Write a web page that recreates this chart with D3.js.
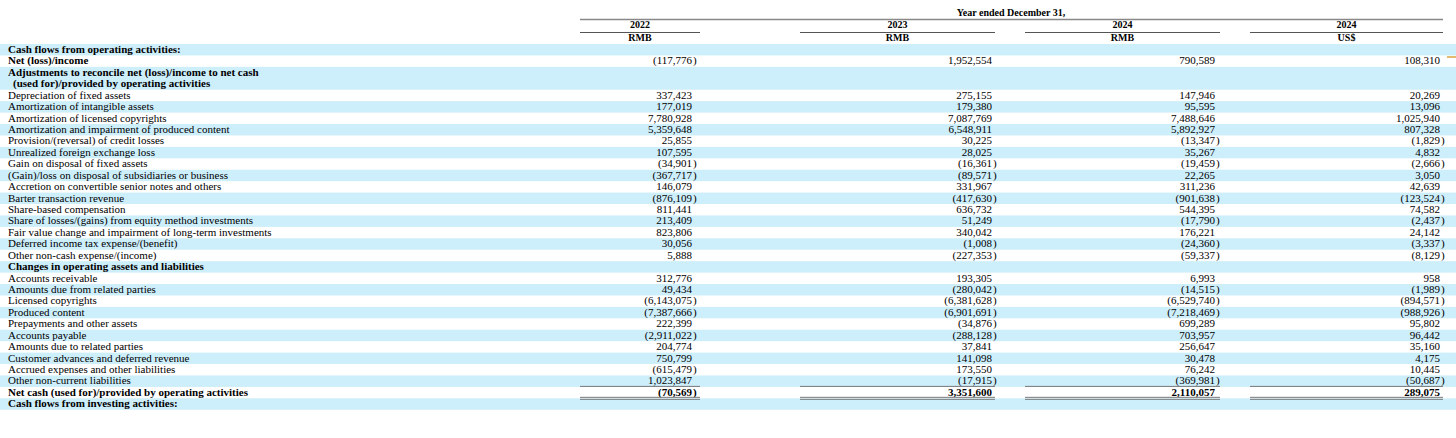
<!DOCTYPE html>
<html><head><meta charset="utf-8">
<script src="https://cdn.jsdelivr.net/npm/d3@7"></script>
<style>body{margin:0;background:#fff}svg{display:block}text{font-family:"Liberation Serif","Times New Roman",serif;font-size:11px;fill:#000}</style>
</head><body><div id="chart"></div>
<script>
// row labels, type: h = bold header, r = plain row, t = total
var labels = ["Cash flows from operating activities:", "Net (loss)/income",
  "Adjustments to reconcile net (loss)/income to net cash|(used for)/provided by operating activities",
  "Depreciation of fixed assets", "Amortization of intangible assets", "Amortization of licensed copyrights",
  "Amortization and impairment of produced content", "Provision/(reversal) of credit losses",
  "Unrealized foreign exchange loss", "Gain on disposal of fixed assets",
  "(Gain)/loss on disposal of subsidiaries or business", "Accretion on convertible senior notes and others",
  "Barter transaction revenue", "Share-based compensation", "Share of losses/(gains) from equity method investments",
  "Fair value change and impairment of long-term investments", "Deferred income tax expense/(benefit)",
  "Other non-cash expense/(income)", "Changes in operating assets and liabilities", "Accounts receivable",
  "Amounts due from related parties", "Licensed copyrights", "Produced content", "Prepayments and other assets",
  "Accounts payable", "Amounts due to related parties", "Customer advances and deferred revenue",
  "Accrued expenses and other liabilities", "Other non-current liabilities",
  "Net cash (used for)/provided by operating activities", "Cash flows from investing activities:"];
var types = ["h","b","h","r","r","r","r","r","r","r","r","r","r","r","r","r","r","r","h","r","r","r","r","r","r","r","r","r","r","t","h"];
var years = ["2022", "2023", "2024", "2024"];
var currencies = ["RMB", "RMB", "RMB", "US$"];
var v2022 = [null,-117776,null,337423,177019,7780928,5359648,25855,107595,-34901,-367717,146079,-876109,811441,213409,823806,30056,5888,null,312776,49434,-6143075,-7387666,222399,-2911022,204774,750799,-615479,1023847,-70569,null];
var v2023 = [null,1952554,null,275155,179380,7087769,6548911,30225,28025,-16361,-89571,331967,-417630,636732,51249,340042,-1008,-227353,null,193305,-280042,-6381628,-6901691,-34876,-288128,37841,141098,173550,-17915,3351600,null];
var v2024 = [null,790589,null,147946,95595,7488646,5892927,-13347,35267,-19459,22265,311236,-901638,544395,-17790,176221,-24360,-59337,null,6993,-14515,-6529740,-7218469,699289,703957,256647,30478,76242,-369981,2110057,null];
var vUsd = [null,108310,null,20269,13096,1025940,807328,-1829,4832,-2666,3050,42639,-123524,74582,-2437,24142,-3337,-8129,null,958,-1989,-894571,-988926,95802,96442,35160,4175,10445,-50687,289075,null];
var series = [v2022, v2023, v2024, vUsd];

var W = 1456, H = 438, rowH = 11.43, tableTop = 44;
var colL = [580, 800, 1025, 1250], colR = [700, 995, 1220, 1443], numR = [692, 992, 1215, 1440];
var svg = d3.select("#chart").append("svg").attr("width", W).attr("height", H);
var fmt = d3.format(",");

// row y positions (adjustments row spans 2 lines)
var ys = [], y = tableTop;
labels.forEach(function(l){ ys.push(y); y += rowH * l.split("|").length; });

labels.forEach(function(l, i){
  var lines = l.split("|"), h = rowH * lines.length;
  if (i % 2 === 0) svg.append("rect").attr("x", 0).attr("y", ys[i]).attr("width", W).attr("height", h).attr("fill", "#cdeefb");
  lines.forEach(function(s, k){
    svg.append("text").attr("x", k ? 13 : 8).attr("y", ys[i] + rowH*k + 9)
      .style("font-weight", types[i] === "r" ? "normal" : "bold").text(s);
  });
  series.forEach(function(vals, c){
    var v = vals[i];
    if (v === null) return;
    var t = svg.append("text").attr("x", numR[c]).attr("y", ys[i] + 9).attr("text-anchor", "end")
      .style("font-weight", types[i] === "t" ? "bold" : "normal").text(v < 0 ? "(" + fmt(-v) : fmt(v));
    if (v < 0) svg.append("text").attr("x", numR[c] + 1).attr("y", ys[i] + 9)
      .style("font-weight", types[i] === "t" ? "bold" : "normal").text(")");
  });
});

// header
svg.append("text").attr("x", 1011).attr("y", 16).attr("text-anchor", "middle").style("font-weight", "bold").style("font-size", "10px").text("Year ended December 31,");
svg.append("line").attr("x1", 580).attr("x2", 1443).attr("y1", 19.5).attr("y2", 19.5).attr("stroke", "#888").attr("stroke-width", 1.5);
var ti = types.indexOf("t");
years.forEach(function(yr, c){
  var cx = (colL[c] + colR[c]) / 2;
  svg.append("text").attr("x", cx).attr("y", 28).attr("text-anchor", "middle").style("font-weight", "bold").style("font-size", "10px").text(yr);
  svg.append("line").attr("x1", colL[c]).attr("x2", colR[c]).attr("y1", 32.5).attr("y2", 32.5).attr("stroke", "#555");
  svg.append("text").attr("x", cx).attr("y", 41).attr("text-anchor", "middle").style("font-weight", "bold").style("font-size", "10px").text(currencies[c]);
  // total rules
  svg.append("line").attr("x1", colL[c]).attr("x2", colR[c]).attr("y1", ys[ti] - 0.5).attr("y2", ys[ti] - 0.5).attr("stroke", "#777");
  [ys[ti] + rowH - 1, ys[ti] + rowH + 1].forEach(function(ly){
    svg.append("line").attr("x1", colL[c]).attr("x2", colR[c]).attr("y1", ly).attr("y2", ly).attr("stroke", "#777");
  });
});
svg.append("line").attr("x1", 1447).attr("x2", 1456).attr("y1", 57).attr("y2", 57).attr("stroke", "#d9a441").attr("stroke-width", 1.5);
</script></body></html>
